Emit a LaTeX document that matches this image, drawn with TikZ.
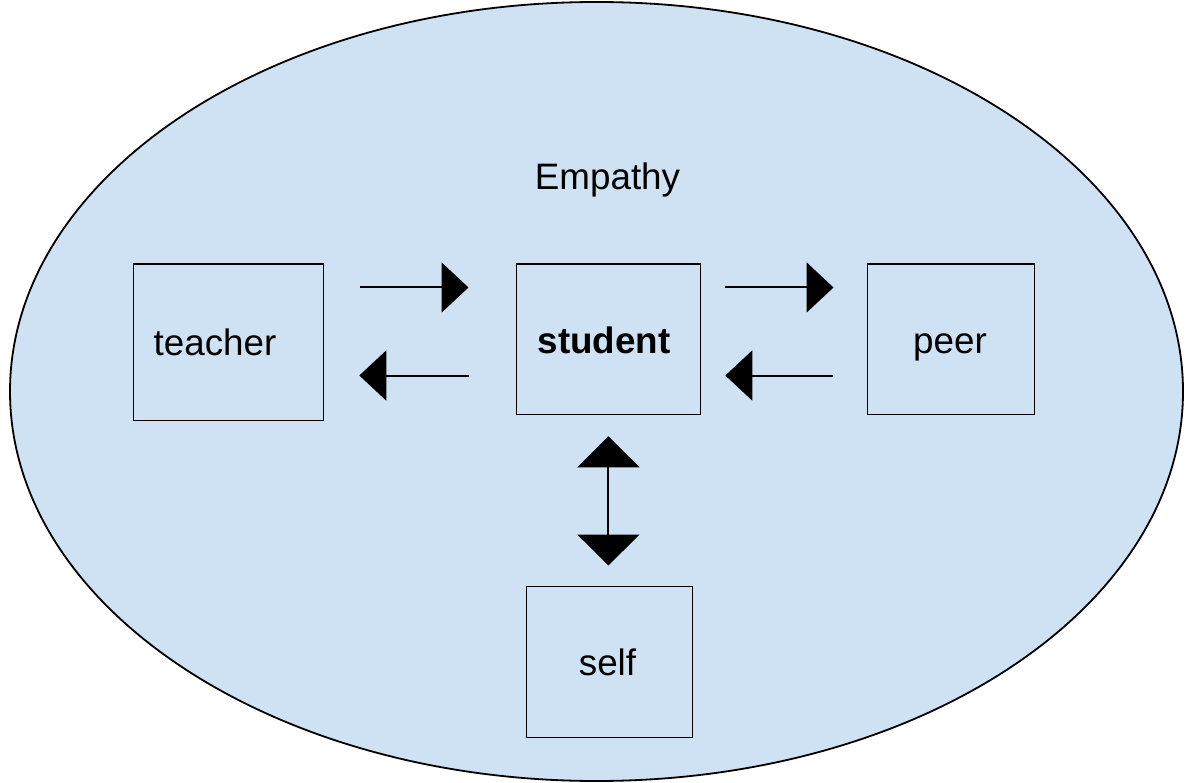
\documentclass[tikz,border=0pt]{standalone}
\usepackage{fontspec}
\setmainfont{Liberation Sans}
\usetikzlibrary{arrows.meta}
\definecolor{paleblue}{HTML}{CFE2F3}
\begin{document}
\begin{tikzpicture}[x=1pt,y=-1pt,
  box/.style={draw=black, line width=1.8pt, fill=paleblue, inner sep=0pt, anchor=north west},
  word/.style={font=\fontsize{36.8}{40}\selectfont, anchor=base, inner sep=0pt},
  flow/.style={line width=2pt, -{Triangle[length=27pt 0 0, width=50pt 0]}},
  both/.style={line width=2pt, {Triangle[length=31pt 0 0, width=62pt 0]}-{Triangle[length=31pt 0 0, width=62pt 0]}}]
  \useasboundingbox (0,0) rectangle (1185,783);
  % surrounding ellipse
  \fill[paleblue] (596.5,391.5) ellipse [x radius=586.5, y radius=389.5];
  \draw[line width=1.8pt] (596.5,391.5) ellipse [x radius=586.5, y radius=389.5];
  \node[word] (empathy) at (607.5,190) {Empathy};
  % boxes
  \node[box, minimum width=190pt, minimum height=156pt] (teacher) at (132.5,263.5) {};
  \node[box, minimum width=184pt, minimum height=150pt] (student) at (515.5,263.5) {};
  \node[box, minimum width=167pt, minimum height=150pt] (peer) at (866.5,263.5) {};
  \node[box, minimum width=166pt, minimum height=151pt] (self) at (525.5,585.5) {};
  % labels
  \node[word] (teachertext) at (215,355) {teacher};
  \node[word, font=\fontsize{36.8}{40}\selectfont\bfseries] (studenttext) at (604,353) {student};
  \node[word] (peertext) at (950,353) {peer};
  \node[word] (selftext) at (607.5,675) {self};
  % connectors
  \draw[flow, shorten <=36pt, shorten >=47pt] ([yshift=-24pt]teacher.north east) -- ([yshift=-24pt]student.north west);
  \draw[flow, shorten <=47pt, shorten >=35pt] ([yshift=-112pt]student.north west) -- ([yshift=-112pt]teacher.north east);
  \draw[flow, shorten <=24pt, shorten >=33pt] ([yshift=-24pt]student.north east) -- ([yshift=-24pt]peer.north west);
  \draw[flow, shorten <=34pt, shorten >=24pt] ([yshift=-112pt]peer.north west) -- ([yshift=-112pt]student.north east);
  \draw[both, shorten <=21pt, shorten >=20pt] (student.south) -- (student.south |- self.north);
\end{tikzpicture}
\end{document}
